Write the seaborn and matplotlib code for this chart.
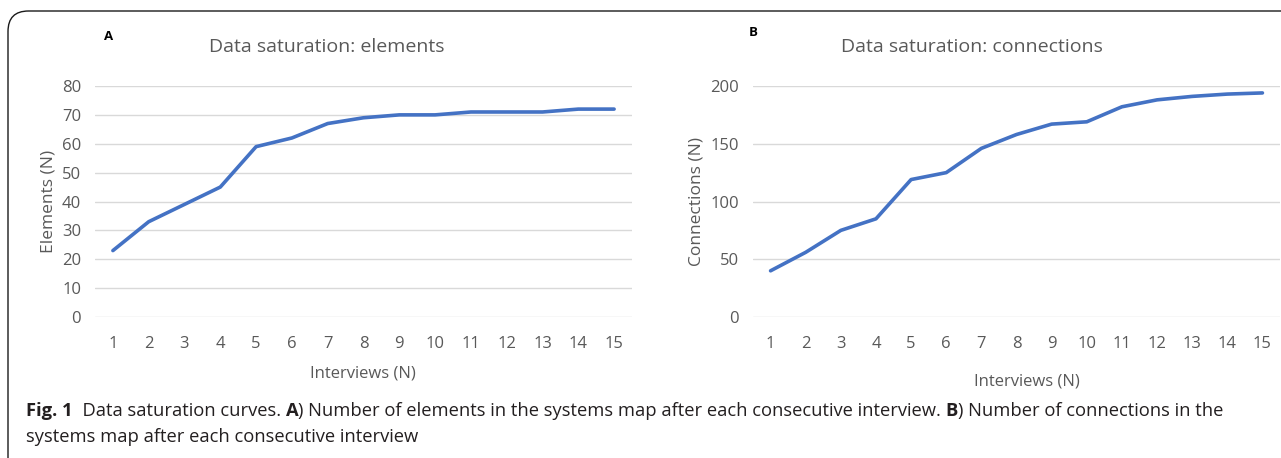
import matplotlib
matplotlib.use("Agg")
import matplotlib.pyplot as plt
import seaborn as sns
import pandas as pd
from matplotlib import font_manager
from matplotlib.patches import FancyBboxPatch

interviews = list(range(1, 16))
elements = [23, 33, 39, 45, 59, 62, 67, 69, 70, 70, 71, 71, 71, 72, 72]
connections = [40, 56, 75, 85, 119, 125, 146, 158, 167, 169, 182, 188, 191, 193, 194]
elem_ticks = [0, 10, 20, 30, 40, 50, 60, 70, 80]
conn_ticks = [0, 50, 100, 150, 200]

sns.set_theme(style="white")
names = {f.name for f in font_manager.fontManager.ttflist}
narrow = "Liberation Sans Narrow" if "Liberation Sans Narrow" in names else "Open Sans"
main_font = "Open Sans" if "Open Sans" in names else "DejaVu Sans"
plt.rcParams['font.family'] = [main_font, 'DejaVu Sans']

df_a = pd.DataFrame({"Interviews": interviews, "Value": elements})
df_b = pd.DataFrame({"Interviews": interviews, "Value": connections})

W, H = 1281, 458
fig = plt.figure(figsize=(W / 100, H / 100), dpi=100)

def fx(px):
    return px / W

def fy(py):
    return 1 - py / H

ax_a = fig.add_axes([fx(95), fy(317), fx(632 - 95), (317 - 86) / H])
ax_b = fig.add_axes([fx(753), fy(317), fx(1280 - 753), (317 - 86) / H])

line_color = "#4472C4"
grey = "#595959"
for ax, df, ticks, ylab in [
    (ax_a, df_a, elem_ticks, "Elements (N)"),
    (ax_b, df_b, conn_ticks, "Connections (N)"),
]:
    sns.lineplot(data=df, x="Interviews", y="Value", ax=ax, color=line_color,
                 linewidth=2.6, solid_capstyle="round", solid_joinstyle="round")
    ax.set_xlim(0.5, 15.5)
    ax.set_ylim(ticks[0], ticks[-1])
    ax.set_yticks(ticks)
    ax.set_xticks(interviews)
    ax.set_xticklabels([str(i) for i in interviews])
    for s in ax.spines.values():
        s.set_visible(False)
    ax.grid(axis="y", color="#D9D9D9", linewidth=1.0)
    ax.set_axisbelow(True)
    ax.tick_params(axis="both", length=0, labelsize=12, labelcolor=grey)
    ax.tick_params(axis="x", pad=14)
    ax.tick_params(axis="y", pad=10)
    ax.set_ylabel(ylab, fontsize=12.5, color=grey, labelpad=4)
    ax.set_xlabel("")

fig.text(fx(363), fy(373), "Interviews (N)", ha="center", va="center", fontsize=12, color=grey)
fig.text(fx(1027), fy(382), "Interviews (N)", ha="center", va="center", fontsize=12, color=grey)
fig.text(fx(327), fy(47), "Data saturation: elements", ha="center", va="center", fontsize=14, color=grey)
fig.text(fx(972), fy(47), "Data saturation: connections", ha="center", va="center", fontsize=14, color=grey)
fig.text(fx(104), fy(37), "A", ha="left", va="center", fontsize=9.5, fontweight="bold", color="black")
fig.text(fx(749), fy(33), "B", ha="left", va="center", fontsize=9.5, fontweight="bold", color="black")

# border
box = FancyBboxPatch((fx(8), fy(520)), fx(1400), (520 - 11) / H,
                     boxstyle="round,pad=0,rounding_size=0.016",
                     transform=fig.transFigure, fill=False, edgecolor="#1a1a1a",
                     linewidth=1.0, mutation_aspect=W / H)
fig.add_artist(box)

# caption with mixed bold
cap_fs = 13.2
fig.canvas.draw()
renderer = fig.canvas.get_renderer()

def run(parts, x0, y):
    x = x0
    for txt, bold in parts:
        t = fig.text(x, y, txt, ha="left", va="center", fontsize=cap_fs,
                     family=[narrow, "DejaVu Sans"],
                     fontweight="bold" if bold else "normal", color="#231F20")
        bb = t.get_window_extent(renderer=renderer)
        x = x + bb.width / W

run([("Fig. 1", True), ("  Data saturation curves. ", False), ("A", True),
     (") Number of elements in the systems map after each consecutive interview. ", False),
     ("B", True), (") Number of connections in the", False)], fx(26), fy(411))
run([("systems map after each consecutive interview", False)], fx(26), fy(437))

fig.savefig("out.png", dpi=100)
